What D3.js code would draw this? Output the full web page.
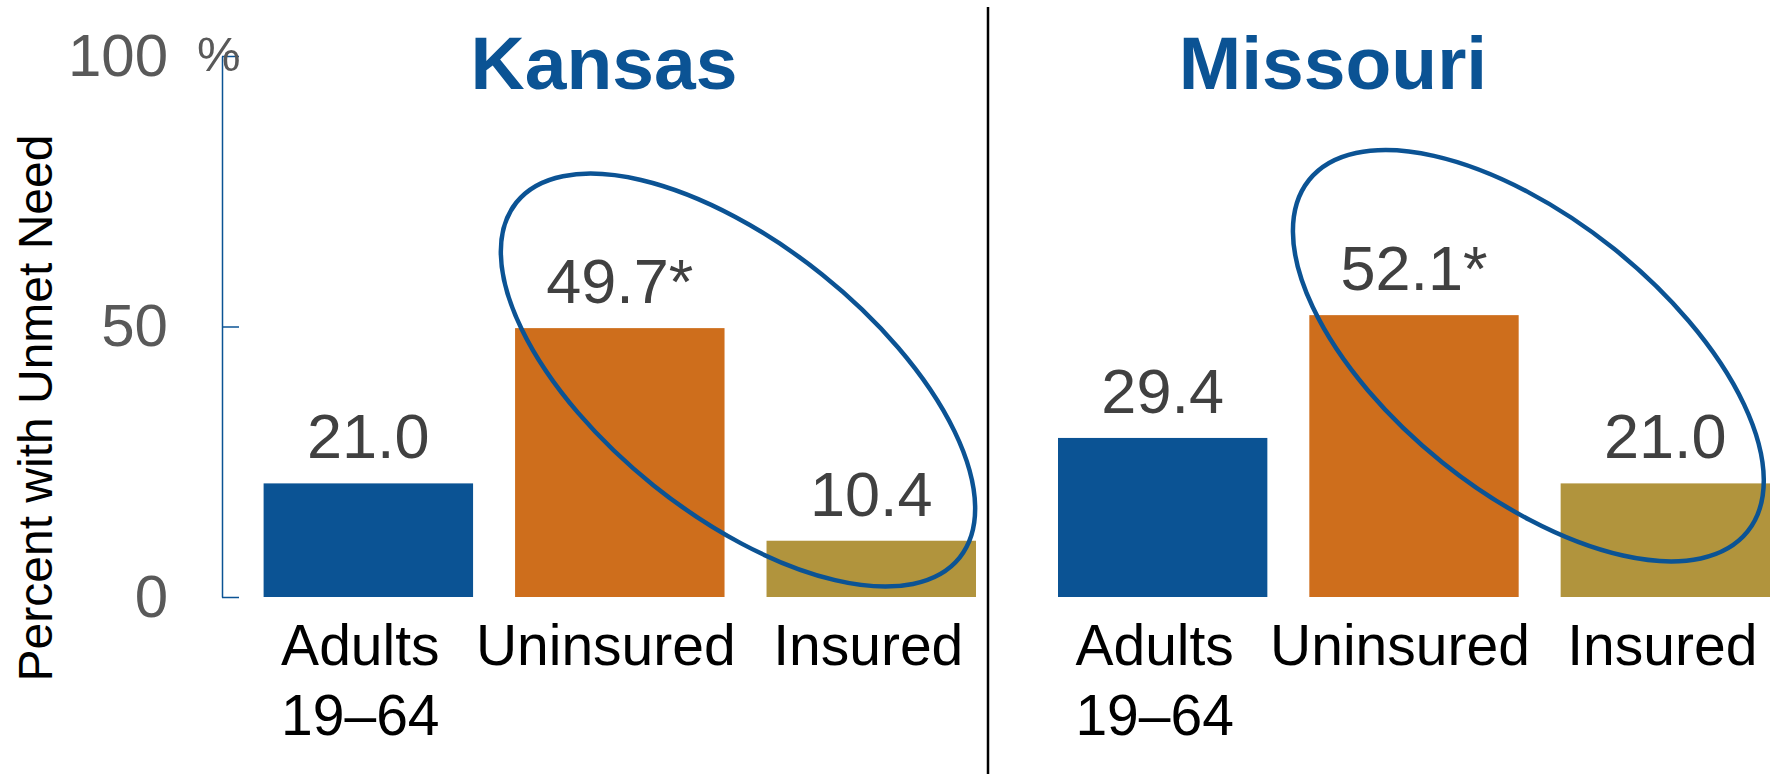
<!DOCTYPE html>
<html>
<head>
<meta charset="utf-8">
<script src="https://cdn.jsdelivr.net/npm/d3@7"></script>
<style>
  html, body { margin: 0; padding: 0; background: #fff; }
  svg { display: block; font-family: "Liberation Sans", Arial, sans-serif; }
</style>
</head>
<body>
<script>
// data
const panels = ["Kansas", "Missouri"];
const categories = ["Adults 19–64", "Uninsured", "Insured"];
const kansasValues = [21.0, 49.7, 10.4];
const missouriValues = [29.4, 52.1, 21.0];
const starred = [false, true, false];
const yTicks = [0, 50, 100];
const barColors = ["#0B5394", "#CE6E1C", "#B1943D"];

const W = 1776, H = 774;
const blue = "#0B5394";

const svg = d3.select("body").append("svg")
  .attr("width", W)
  .attr("height", H);

const y = d3.scaleLinear().domain([0, 100]).range([597, 56]);

// layout per panel
const panelLayout = [
  { range: [263.6, 976], titleX: 604, ring: { t: 0.47, v: 40.1, a: 284, b: 135, rot: 38.7 } },
  { range: [1058, 1770], titleX: 1333, ring: { t: 0.455, v: 44.6, a: 281, b: 137, rot: 38.7 } }
];
const labelShift = [-8, -14, -3];
const seriesByPanel = [kansasValues, missouriValues];

// y axis (left panel only)
const yAxis = d3.axisLeft(y)
  .tickValues(yTicks)
  .tickSizeInner(-17)
  .tickSizeOuter(0)
  .tickPadding(54)
  .tickFormat(d3.format("d"));

const gy = svg.append("g")
  .attr("transform", "translate(222,0)")
  .call(yAxis);
gy.select(".domain").attr("stroke", blue).attr("stroke-width", 1.5);
gy.selectAll(".tick line").attr("stroke", blue).attr("stroke-width", 1.5);
gy.selectAll(".tick text")
  .attr("fill", "#595959")
  .attr("font-size", 60)
  .attr("font-family", "'Liberation Sans', Arial, sans-serif");
gy.selectAll(".tick").filter(d => d === 100)
  .append("text")
  .attr("x", -25)
  .attr("y", 14)
  .attr("text-anchor", "start")
  .attr("fill", "#595959")
  .attr("font-size", 49)
  .attr("font-family", "'Liberation Sans', Arial, sans-serif")
  .text("%");

svg.append("text")
  .attr("transform", "translate(52,408) rotate(-90)")
  .attr("text-anchor", "middle")
  .attr("font-size", 48)
  .attr("fill", "#000")
  .text("Percent with Unmet Need");

// divider
svg.append("line")
  .attr("x1", 988).attr("x2", 988)
  .attr("y1", 7).attr("y2", H)
  .attr("stroke", "#000")
  .attr("stroke-width", 2.5);

panels.forEach((name, i) => {
  const lay = panelLayout[i];
  const values = seriesByPanel[i];
  const rows = categories.map((c, j) => ({ cat: c, value: values[j], star: starred[j], color: barColors[j], shift: labelShift[j] }));

  const x = d3.scaleBand()
    .domain(categories)
    .range(lay.range)
    .paddingInner(0.167)
    .paddingOuter(0);

  const g = svg.append("g");

  g.append("text")
    .attr("x", lay.titleX)
    .attr("y", 89)
    .attr("text-anchor", "middle")
    .attr("font-size", 75)
    .attr("font-weight", "bold")
    .attr("fill", blue)
    .text(name);

  g.selectAll("rect.bar")
    .data(rows)
    .enter().append("rect")
    .attr("class", "bar")
    .attr("x", d => x(d.cat))
    .attr("y", d => y(d.value))
    .attr("width", x.bandwidth())
    .attr("height", d => y(0) - y(d.value))
    .attr("fill", d => d.color);

  g.selectAll("text.val")
    .data(rows)
    .enter().append("text")
    .attr("class", "val")
    .attr("x", d => x(d.cat) + x.bandwidth() / 2)
    .attr("y", d => y(d.value) - 25)
    .attr("text-anchor", "middle")
    .attr("font-size", 63)
    .attr("fill", "#404040")
    .text(d => d3.format(".1f")(d.value) + (d.star ? "*" : ""));

  // category labels, "Adults 19–64" wraps onto two lines
  const lab = g.selectAll("text.cat")
    .data(rows)
    .enter().append("text")
    .attr("class", "cat")
    .attr("text-anchor", "middle")
    .attr("font-size", 57)
    .attr("fill", "#000");
  lab.each(function (d) {
    const cx = x(d.cat) + x.bandwidth() / 2 + d.shift;
    const parts = d.cat === "Adults 19–64" ? ["Adults", "19–64"] : [d.cat];
    d3.select(this).selectAll("tspan")
      .data(parts)
      .enter().append("tspan")
      .attr("x", cx)
      .attr("y", (p, k) => 665 + k * 70)
      .text(p => p);
  });

  // ring around uninsured vs insured
  const r = lay.ring;
  const c1 = x("Uninsured") + x.bandwidth() / 2;
  const c2 = x("Insured") + x.bandwidth() / 2;
  const cx = c1 + (c2 - c1) * r.t;
  g.append("ellipse")
    .attr("transform", `translate(${cx},${y(r.v)}) rotate(${r.rot})`)
    .attr("rx", r.a)
    .attr("ry", r.b)
    .attr("fill", "none")
    .attr("stroke", blue)
    .attr("stroke-width", 4.5);
});
</script>
</body>
</html>
